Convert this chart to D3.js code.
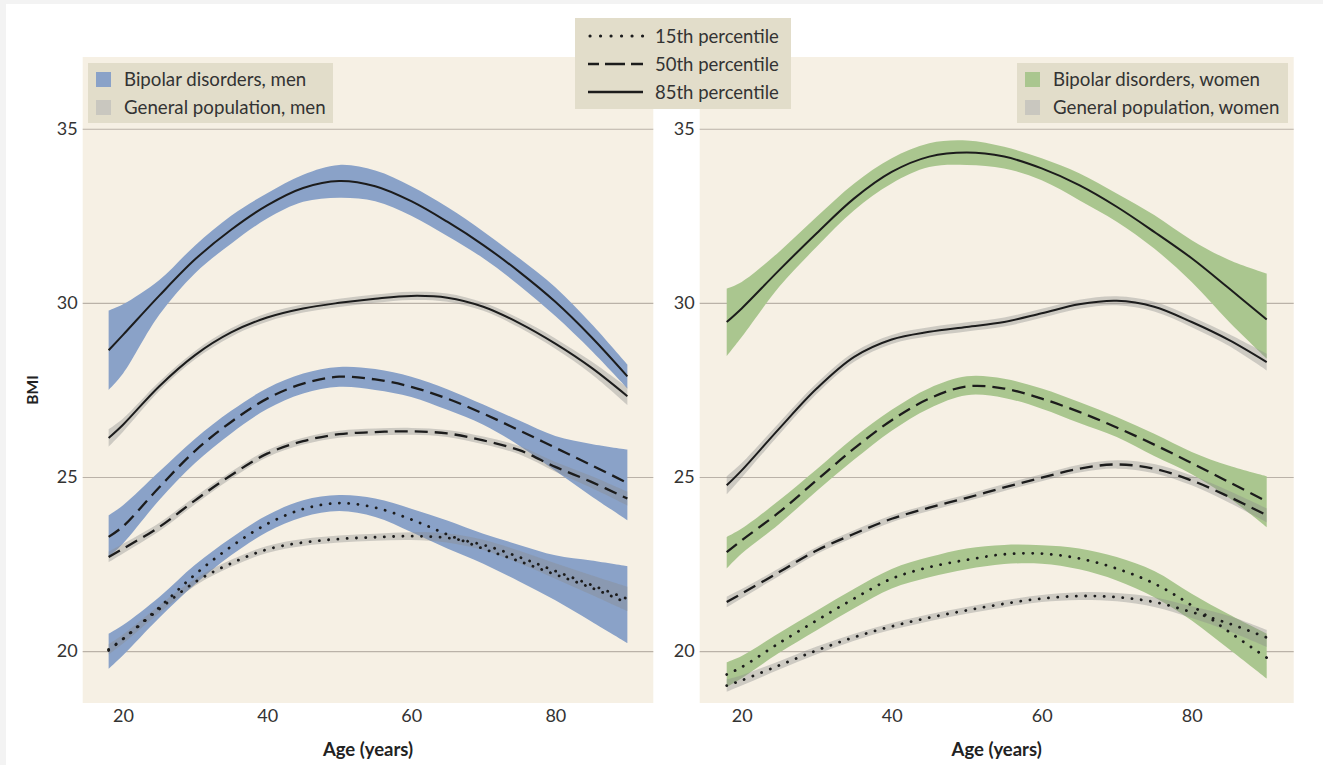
<!DOCTYPE html>
<html>
<head>
<meta charset="utf-8">
<script src="https://cdn.jsdelivr.net/npm/d3@7"></script>
<style>
  html, body { margin: 0; padding: 0; background: #ffffff; }
  svg { display: block; font-family: Lato, "Open Sans", sans-serif; }
</style>
</head>
<body>
<script>
// Age grid shared by every smoothed percentile curve
const ages = [18, 20, 25, 30, 35, 40, 45, 50, 55, 60, 65, 70, 75, 80, 85, 90];

// ---- Men: bipolar disorders (line, lower and upper confidence bound) ----
const bipMen85   = [28.64, 29.08, 30.20, 31.25, 32.10, 32.80, 33.30, 33.50, 33.35, 32.92, 32.33, 31.66, 30.89, 30.03, 29.02, 27.89];
const bipMen85Lo = [27.50, 27.97, 29.65, 30.85, 31.70, 32.42, 32.90, 33.02, 32.92, 32.50, 31.92, 31.28, 30.50, 29.62, 28.63, 27.54];
const bipMen85Hi = [29.78, 29.96, 30.65, 31.65, 32.50, 33.15, 33.68, 33.96, 33.80, 33.35, 32.75, 32.05, 31.28, 30.45, 29.40, 28.23];
const bipMen50   = [23.28, 23.58, 24.70, 25.75, 26.58, 27.25, 27.68, 27.88, 27.80, 27.59, 27.25, 26.82, 26.34, 25.84, 25.34, 24.83];
const bipMen50Lo = [22.70, 23.09, 24.33, 25.40, 26.25, 26.95, 27.40, 27.59, 27.50, 27.30, 26.93, 26.50, 25.90, 25.18, 24.45, 23.76];
const bipMen50Hi = [23.90, 24.19, 25.15, 26.10, 26.90, 27.55, 27.97, 28.16, 28.10, 27.88, 27.52, 27.08, 26.62, 26.18, 25.95, 25.79];
const bipMen15   = [20.02, 20.35, 21.25, 22.20, 23.00, 23.65, 24.08, 24.25, 24.12, 23.78, 23.35, 22.94, 22.58, 22.20, 21.82, 21.38];
const bipMen15Lo = [19.49, 19.88, 20.95, 21.92, 22.75, 23.42, 23.85, 24.02, 23.85, 23.42, 22.95, 22.51, 22.00, 21.46, 20.85, 20.23];
const bipMen15Hi = [20.50, 20.75, 21.55, 22.48, 23.25, 23.90, 24.33, 24.48, 24.38, 24.09, 23.75, 23.37, 23.05, 22.75, 22.60, 22.44];

// ---- Men: general population ----
const genMen85   = [26.12, 26.50, 27.60, 28.50, 29.15, 29.58, 29.84, 30.00, 30.12, 30.20, 30.15, 29.89, 29.42, 28.83, 28.14, 27.32];
const genMen85Lo = [25.87, 26.30, 27.47, 28.38, 29.03, 29.46, 29.72, 29.88, 30.00, 30.08, 30.03, 29.77, 29.29, 28.68, 27.96, 27.07];
const genMen85Hi = [26.37, 26.68, 27.73, 28.62, 29.27, 29.70, 29.96, 30.12, 30.24, 30.32, 30.27, 30.01, 29.55, 28.98, 28.32, 27.57];
const genMen50   = [22.70, 22.94, 23.56, 24.33, 25.05, 25.67, 26.03, 26.23, 26.29, 26.31, 26.25, 26.05, 25.77, 25.29, 24.86, 24.38];
const genMen50Lo = [22.55, 22.80, 23.44, 24.22, 24.95, 25.57, 25.93, 26.13, 26.19, 26.21, 26.15, 25.94, 25.65, 25.15, 24.69, 24.18];
const genMen50Hi = [22.85, 23.08, 23.68, 24.44, 25.15, 25.77, 26.13, 26.33, 26.39, 26.41, 26.35, 26.16, 25.89, 25.43, 25.03, 24.58];
const genMen15   = [20.05, 20.35, 21.20, 21.98, 22.52, 22.92, 23.12, 23.22, 23.27, 23.30, 23.25, 23.05, 22.70, 22.30, 21.90, 21.50];
const genMen15Lo = [19.90, 20.22, 21.09, 21.88, 22.42, 22.82, 23.02, 23.12, 23.17, 23.19, 23.12, 22.90, 22.52, 22.08, 21.62, 21.15];
const genMen15Hi = [20.20, 20.48, 21.31, 22.08, 22.62, 23.02, 23.22, 23.32, 23.37, 23.41, 23.38, 23.20, 22.88, 22.52, 22.18, 21.85];

// ---- Women: bipolar disorders ----
const bipWomen85   = [29.45, 29.84, 30.94, 32.00, 33.00, 33.76, 34.20, 34.32, 34.20, 33.86, 33.38, 32.76, 32.04, 31.28, 30.41, 29.52];
const bipWomen85Lo = [28.47, 29.02, 30.46, 31.61, 32.66, 33.43, 33.90, 33.96, 33.86, 33.52, 32.95, 32.33, 31.56, 30.60, 29.45, 28.40];
const bipWomen85Hi = [30.41, 30.60, 31.47, 32.47, 33.43, 34.15, 34.58, 34.66, 34.48, 34.15, 33.72, 33.14, 32.52, 31.80, 31.23, 30.84];
const bipWomen50   = [22.84, 23.18, 23.99, 24.91, 25.82, 26.63, 27.25, 27.60, 27.54, 27.25, 26.87, 26.42, 25.93, 25.40, 24.85, 24.30];
const bipWomen50Lo = [22.37, 22.80, 23.65, 24.60, 25.50, 26.33, 26.97, 27.35, 27.27, 26.96, 26.55, 26.15, 25.60, 25.08, 24.40, 23.56];
const bipWomen50Hi = [23.28, 23.52, 24.33, 25.22, 26.14, 26.93, 27.55, 27.89, 27.82, 27.54, 27.15, 26.72, 26.24, 25.72, 25.32, 25.02];
const bipWomen15   = [19.33, 19.54, 20.23, 20.88, 21.51, 22.08, 22.41, 22.62, 22.78, 22.80, 22.66, 22.37, 21.94, 21.31, 20.55, 19.81];
const bipWomen15Lo = [18.97, 19.22, 19.95, 20.60, 21.23, 21.80, 22.12, 22.35, 22.50, 22.51, 22.35, 22.03, 21.55, 20.88, 20.05, 19.21];
const bipWomen15Hi = [19.68, 19.86, 20.52, 21.16, 21.79, 22.36, 22.70, 22.95, 23.05, 23.04, 22.95, 22.70, 22.30, 21.65, 21.05, 20.50];

// ---- Women: general population ----
const genWomen85   = [24.76, 25.19, 26.39, 27.54, 28.45, 28.95, 29.17, 29.31, 29.45, 29.70, 29.96, 30.06, 29.89, 29.45, 28.93, 28.30];
const genWomen85Lo = [24.50, 24.98, 26.22, 27.39, 28.31, 28.82, 29.04, 29.18, 29.32, 29.57, 29.83, 29.93, 29.75, 29.30, 28.76, 28.06];
const genWomen85Hi = [25.02, 25.40, 26.56, 27.69, 28.59, 29.08, 29.30, 29.44, 29.58, 29.83, 30.09, 30.19, 30.03, 29.60, 29.10, 28.54];
const genWomen50   = [21.41, 21.65, 22.27, 22.89, 23.37, 23.80, 24.12, 24.40, 24.70, 24.98, 25.24, 25.36, 25.24, 24.90, 24.43, 23.90];
const genWomen50Lo = [21.26, 21.52, 22.16, 22.79, 23.27, 23.70, 24.02, 24.30, 24.60, 24.88, 25.13, 25.24, 25.11, 24.76, 24.26, 23.70];
const genWomen50Hi = [21.56, 21.78, 22.38, 22.99, 23.47, 23.90, 24.22, 24.50, 24.80, 25.08, 25.35, 25.48, 25.37, 25.04, 24.60, 24.10];
const genWomen15   = [19.01, 19.16, 19.59, 20.02, 20.40, 20.71, 20.96, 21.17, 21.36, 21.51, 21.58, 21.55, 21.41, 21.12, 20.79, 20.39];
const genWomen15Lo = [18.83, 19.01, 19.47, 19.91, 20.30, 20.61, 20.86, 21.07, 21.26, 21.41, 21.47, 21.43, 21.27, 20.95, 20.57, 20.12];
const genWomen15Hi = [19.19, 19.31, 19.71, 20.13, 20.50, 20.81, 21.06, 21.27, 21.46, 21.61, 21.69, 21.67, 21.55, 21.29, 21.01, 20.61];

// Axis ticks and legend text
const yTickValues = [20, 25, 30, 35];
const xTickValues = [20, 40, 60, 80];
const percentileLabels = ["15th percentile", "50th percentile", "85th percentile"];
const menLegend = ["Bipolar disorders, men", "General population, men"];
const womenLegend = ["Bipolar disorders, women", "General population, women"];

// ---------------------------------------------------------------------------
const W = 1323, H = 765;
const INK = "#1c1c1c";
const TEXT = "#333333";
const PANEL_BG = "#f6f0e4";
const LEGEND_BG = "#e2ddca";
const GRID = "#bab2a8";
const BLUE = "#8aa2c8";
const GREEN = "#aac68f";
const GREY_BAND = "rgba(140,140,140,0.38)";
const GREY_SWATCH = "#c9c7bf";

const lineStyles = {
  p15: { width: 2.8, dash: "0.1,9.2", cap: "round" },
  p50: { width: 2.3, dash: "13,7", cap: "butt" },
  p85: { width: 2.0, dash: null, cap: "butt" }
};
// legend samples use a slightly different phase so the short segment shows clearly
const legendSamples = {
  p15: { dash: "0.1,10.4", offset: 0 },
  p50: { dash: "20,6", offset: 9 },
  p85: { dash: null, offset: 0 }
};

const svg = d3.select("body").append("svg")
  .attr("width", W).attr("height", H);

// thin grey frame at the top and left edge of the figure
svg.append("rect").attr("x", 0).attr("y", 0).attr("width", W).attr("height", 4).attr("fill", "#f3f3f3");
svg.append("rect").attr("x", 0).attr("y", 0).attr("width", 6).attr("height", H).attr("fill", "#f3f3f3");

const y = d3.scaleLinear().domain([18.51, 37.06]).range([703, 57]);
const panelTop = y.range()[1], panelBottom = y.range()[0];

function rows(line, lo, hi) {
  return ages.map((a, i) => ({ age: a, v: line[i], lo: lo[i], hi: hi[i] }));
}

const panels = [
  {
    xRange: [82.7, 653.3],
    color: BLUE,
    bipolar: [
      { key: "p85", data: rows(bipMen85, bipMen85Lo, bipMen85Hi) },
      { key: "p50", data: rows(bipMen50, bipMen50Lo, bipMen50Hi) },
      { key: "p15", data: rows(bipMen15, bipMen15Lo, bipMen15Hi) }
    ],
    general: [
      { key: "p85", data: rows(genMen85, genMen85Lo, genMen85Hi) },
      { key: "p50", data: rows(genMen50, genMen50Lo, genMen50Hi) },
      { key: "p15", data: rows(genMen15, genMen15Lo, genMen15Hi) }
    ],
    legend: { labels: menLegend, x: 88, w: 245 },
    yTitle: true
  },
  {
    xRange: [699.7, 1293.7],
    color: GREEN,
    bipolar: [
      { key: "p85", data: rows(bipWomen85, bipWomen85Lo, bipWomen85Hi) },
      { key: "p50", data: rows(bipWomen50, bipWomen50Lo, bipWomen50Hi) },
      { key: "p15", data: rows(bipWomen15, bipWomen15Lo, bipWomen15Hi) }
    ],
    general: [
      { key: "p85", data: rows(genWomen85, genWomen85Lo, genWomen85Hi) },
      { key: "p50", data: rows(genWomen50, genWomen50Lo, genWomen50Hi) },
      { key: "p15", data: rows(genWomen15, genWomen15Lo, genWomen15Hi) }
    ],
    legend: { labels: womenLegend, x: 1017, w: 271 },
    yTitle: false
  }
];

const smooth = d3.curveCatmullRom.alpha(0.5);

panels.forEach(p => {
  const x = d3.scaleLinear().domain([14.4, 93.6]).range(p.xRange);
  const g = svg.append("g");

  // panel background
  g.append("rect")
    .attr("x", p.xRange[0]).attr("y", panelTop)
    .attr("width", p.xRange[1] - p.xRange[0]).attr("height", panelBottom - panelTop)
    .attr("fill", PANEL_BG);

  // horizontal gridlines + y tick labels
  const yAxis = g.append("g")
    .attr("transform", `translate(${p.xRange[0]},0)`)
    .call(d3.axisLeft(y).tickValues(yTickValues)
      .tickSize(-(p.xRange[1] - p.xRange[0])).tickPadding(5).tickFormat(d3.format("d")));
  yAxis.select(".domain").remove();
  yAxis.selectAll(".tick line").attr("stroke", GRID).attr("stroke-width", 1.1);
  yAxis.selectAll(".tick text")
    .attr("fill", TEXT).style("font-size", "18px").style("font-family", "Lato, sans-serif");

  // x axis labels
  const xAxis = g.append("g")
    .attr("transform", `translate(0,${panelBottom})`)
    .call(d3.axisBottom(x).tickValues(xTickValues).tickSize(0).tickPadding(6).tickFormat(d3.format("d")));
  xAxis.select(".domain").remove();
  xAxis.selectAll(".tick text")
    .attr("fill", TEXT).style("font-size", "18px").style("font-family", "Lato, sans-serif");

  // x axis title
  g.append("text")
    .attr("x", (p.xRange[0] + p.xRange[1]) / 2).attr("y", 756)
    .attr("text-anchor", "middle")
    .attr("fill", "#222").style("font-size", "18.5px").style("font-weight", 700)
    .text("Age (years)");

  if (p.yTitle) {
    svg.append("text")
      .attr("transform", `translate(38,390) rotate(-90)`)
      .attr("text-anchor", "middle")
      .attr("fill", "#222").style("font-size", "15.5px").style("font-weight", 700)
      .text("BMI");
  }

  const area = d3.area()
    .x(d => x(d.age)).y0(d => y(d.lo)).y1(d => y(d.hi))
    .curve(smooth);
  const line = d3.line()
    .x(d => x(d.age)).y(d => y(d.v))
    .curve(smooth);

  // confidence ribbons: bipolar first, translucent grey general population on top
  g.selectAll("path.bip-band").data(p.bipolar).join("path")
    .attr("class", "bip-band")
    .attr("d", s => area(s.data))
    .attr("fill", p.color);
  g.selectAll("path.gen-band").data(p.general).join("path")
    .attr("class", "gen-band")
    .attr("d", s => area(s.data))
    .attr("fill", GREY_BAND);

  // percentile curves
  g.selectAll("path.curve").data(p.general.concat(p.bipolar)).join("path")
    .attr("class", "curve")
    .attr("d", s => line(s.data))
    .attr("fill", "none")
    .attr("stroke", INK)
    .attr("stroke-width", s => lineStyles[s.key].width)
    .attr("stroke-dasharray", s => lineStyles[s.key].dash)
    .attr("stroke-linecap", s => lineStyles[s.key].cap);

  // group legend (bipolar / general population)
  const lg = svg.append("g");
  lg.append("rect")
    .attr("x", p.legend.x).attr("y", 63)
    .attr("width", p.legend.w).attr("height", 60)
    .attr("fill", LEGEND_BG);
  const items = lg.selectAll("g.item").data(p.legend.labels).join("g")
    .attr("class", "item")
    .attr("transform", (d, i) => `translate(${p.legend.x + 8},${79.5 + i * 28})`);
  items.append("rect")
    .attr("x", 0).attr("y", -7.5).attr("width", 15).attr("height", 15)
    .attr("fill", (d, i) => i === 0 ? p.color : GREY_SWATCH);
  items.append("text")
    .attr("x", 28).attr("dy", "0.36em")
    .attr("fill", TEXT).style("font-size", "18.7px")
    .text(d => d);
});

// percentile line-type legend, centred between the panels
const pl = svg.append("g");
pl.append("rect")
  .attr("x", 575).attr("y", 18).attr("width", 216).attr("height", 91)
  .attr("fill", LEGEND_BG);
const keys = ["p15", "p50", "p85"];
const pItems = pl.selectAll("g.pitem").data(percentileLabels).join("g")
  .attr("class", "pitem")
  .attr("transform", (d, i) => `translate(0,${36 + i * 28})`);
pItems.append("line")
  .attr("x1", (d, i) => keys[i] === "p15" ? 590 : 588).attr("x2", 643)
  .attr("y1", 0).attr("y2", 0)
  .attr("stroke", INK)
  .attr("stroke-width", (d, i) => lineStyles[keys[i]].width + 0.3)
  .attr("stroke-dasharray", (d, i) => legendSamples[keys[i]].dash)
  .attr("stroke-dashoffset", (d, i) => legendSamples[keys[i]].offset)
  .attr("stroke-linecap", (d, i) => lineStyles[keys[i]].cap);
pItems.append("text")
  .attr("x", 655).attr("dy", "0.36em")
  .attr("fill", TEXT).style("font-size", "18.5px")
  .text(d => d);
</script>
</body>
</html>
